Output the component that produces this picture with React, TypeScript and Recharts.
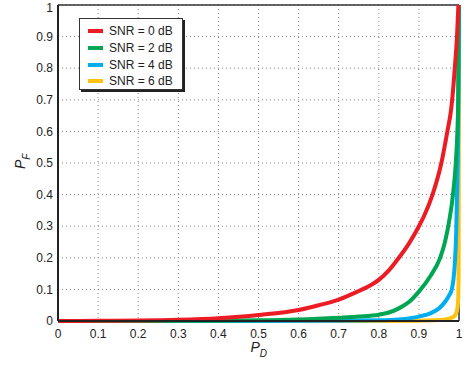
import { CartesianGrid, Line, LineChart, ReferenceLine, XAxis, YAxis } from "recharts";

// values
const ticks = [0, 0.1, 0.2, 0.3, 0.4, 0.5, 0.6, 0.7, 0.8, 0.9, 1];

const pd0 = [0, 0.1, 0.2, 0.3, 0.4, 0.5, 0.6, 0.65, 0.7, 0.75, 0.775, 0.8, 0.825, 0.85, 0.875, 0.9, 0.912, 0.934, 0.956, 0.971, 0.98, 0.983, 0.9895, 0.995, 0.9985];
const pf0 = [0, 0.0005, 0.0015, 0.004, 0.009, 0.019, 0.035, 0.05, 0.068, 0.095, 0.11, 0.13, 0.16, 0.2, 0.245, 0.3, 0.33, 0.4, 0.5, 0.6, 0.666, 0.7, 0.8, 0.9, 1];

const pd2 = [0, 0.2, 0.4, 0.5, 0.6, 0.7, 0.75, 0.8, 0.825, 0.85, 0.875, 0.9, 0.93, 0.953, 0.965, 0.976, 0.985, 0.992, 0.996, 0.998, 0.999, 1];
const pf2 = [0, 0.0002, 0.001, 0.002, 0.005, 0.0105, 0.014, 0.02, 0.027, 0.04, 0.06, 0.093, 0.145, 0.2, 0.25, 0.32, 0.4, 0.5, 0.6, 0.7, 0.9, 1];

const pd4 = [0, 0.5, 0.7, 0.8, 0.85, 0.9, 0.93, 0.95, 0.965, 0.975, 0.982, 0.986, 0.99, 0.993, 0.996, 0.998, 1];
const pf4 = [0, 0.0001, 0.001, 0.002, 0.005, 0.014, 0.025, 0.04, 0.06, 0.08, 0.1, 0.13, 0.19, 0.28, 0.45, 0.6, 1];

const pd6 = [0, 0.8, 0.9, 0.95, 0.97, 0.98, 0.988, 0.993, 0.996, 0.998, 0.999, 1];
const pf6 = [0, 0, 0.001, 0.003, 0.006, 0.01, 0.015, 0.025, 0.04, 0.07, 0.15, 1];

const toPoints = (xs: number[], ys: number[]) => xs.map((x, i) => ({ x, y: ys[i] }));

const series = [
    { name: "SNR = 0 dB", color: "#ec1c24", data: toPoints(pd0, pf0) },
    { name: "SNR = 2 dB", color: "#00a651", data: toPoints(pd2, pf2) },
    { name: "SNR = 4 dB", color: "#00aeef", data: toPoints(pd4, pf4) },
    { name: "SNR = 6 dB", color: "#ffc20e", data: toPoints(pd6, pf6) },
];

const font = "'Liberation Sans', Arial, sans-serif";

function XLabel(props: any) {
    const { x, y, width } = props.viewBox;
    return (
        <text x={x + width / 2 - 8} y={y + 31} fontFamily={font} fontSize={14} fill="#222" fontStyle="italic">
            P
            <tspan fontSize={10} dy={5}>D</tspan>
        </text>
    );
}

function YLabel(props: any) {
    const { y, height } = props.viewBox;
    const cy = y + height / 2 + 6;
    return (
        <text x={0} y={0} transform={`translate(25, ${cy}) rotate(-90)`} fontFamily={font} fontSize={14} fill="#222" fontStyle="italic">
            P
            <tspan fontSize={10} dy={5}>F</tspan>
        </text>
    );
}

export default function App() {
    return (
        <div style={{ position: "absolute", left: 0, top: 0, width: 473, height: 365, background: "#fff" }}>
            <LineChart width={473} height={365} margin={{ top: 5, right: 14, left: 0, bottom: 0 }}>
                <CartesianGrid stroke="#888" strokeDasharray="1 3" />
                <XAxis
                    type="number"
                    dataKey="x"
                    domain={[0, 1]}
                    ticks={ticks}
                    height={44}
                    tickLine={false}
                    tickSize={4}
                    tickMargin={4}
                    axisLine={{ stroke: "#222", strokeWidth: 2 }}
                    tick={{ fontSize: 12, fill: "#222", fontFamily: font }}
                    label={<XLabel />}
                />
                <YAxis
                    type="number"
                    dataKey="y"
                    domain={[0, 1]}
                    ticks={ticks}
                    width={58}
                    tickLine={false}
                    tickSize={3}
                    tickMargin={2}
                    axisLine={{ stroke: "#222", strokeWidth: 2 }}
                    tick={{ fontSize: 12, fill: "#222", fontFamily: font }}
                    label={<YLabel />}
                />
                <ReferenceLine y={1} stroke="#333" strokeWidth={1.5} />
                <ReferenceLine x={1} stroke="#333" strokeWidth={1.5} />
                {[...series].reverse().map((s) => (
                    <Line
                        key={s.name}
                        data={s.data}
                        dataKey="y"
                        name={s.name}
                        type="monotone"
                        stroke={s.color}
                        strokeWidth={4}
                        dot={false}
                        isAnimationActive={false}
                    />
                ))}
            </LineChart>
            <div
                style={{
                    position: "absolute",
                    left: 79,
                    top: 18,
                    width: 104,
                    height: 72,
                    background: "#fff",
                    border: "1px solid #333",
                    boxShadow: "2px 2px 0 #222",
                    fontFamily: font,
                    fontSize: 12,
                    color: "#222",
                    boxSizing: "border-box",
                    paddingTop: 4,
                }}
            >
                {series.map((s) => (
                    <div key={s.name} style={{ display: "flex", alignItems: "center", height: 16.7 }}>
                        <span style={{ display: "inline-block", marginLeft: 8, width: 15, height: 4, background: s.color }} />
                        <span style={{ marginLeft: 6 }}>{s.name}</span>
                    </div>
                ))}
            </div>
        </div>
    );
}
